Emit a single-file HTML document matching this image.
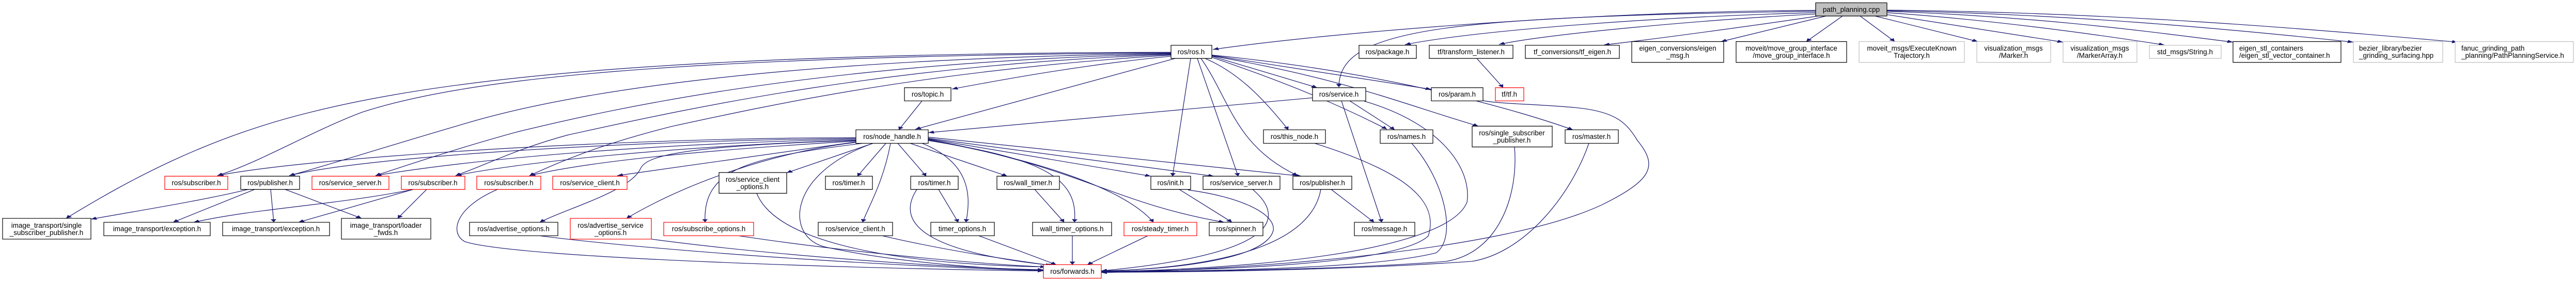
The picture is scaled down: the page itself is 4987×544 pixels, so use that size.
<!DOCTYPE html>
<html><head><meta charset="utf-8"><style>
html,body{margin:0;padding:0;background:#fff;overflow:hidden;}
svg{display:block;}
text{font-family:"Liberation Sans",sans-serif;font-size:13.5px;fill:#000;}
.e path{fill:none;stroke:#191970;stroke-width:1.2;vector-effect:non-scaling-stroke;}
.r rect{vector-effect:non-scaling-stroke;}
</style></head><body>
<svg width="4987" height="544" viewBox="0 0 4987 544" xmlns="http://www.w3.org/2000/svg">
<defs><marker id="a" viewBox="0 0 10 10" refX="10" refY="5" markerWidth="11" markerHeight="14" markerUnits="userSpaceOnUse" orient="auto"><path d="M0,0 L10,5 L0,10 z" fill="#191970"/></marker></defs>
<g transform="scale(1,0.544)">
<g class="e">
<path marker-end="url(#a)" d="M3515,37 C3100,40 2600,110 2348,176"/>
<path marker-end="url(#a)" d="M3515,40 C2800,60 2592,100 2592,310"/>
<path marker-end="url(#a)" d="M3515,45 C3200,60 2850,110 2720,159"/>
<path marker-end="url(#a)" d="M3515,50 C3300,70 3000,120 2902,158"/>
<path marker-end="url(#a)" d="M3520,57 C3400,90 3200,140 3105,160"/>
<path marker-end="url(#a)" d="M3535,57 L3332,148"/>
<path marker-end="url(#a)" d="M3567,57 L3497,148"/>
<path marker-end="url(#a)" d="M3601,57 L3668,148"/>
<path marker-end="url(#a)" d="M3630,57 L3829,148"/>
<path marker-end="url(#a)" d="M3653,52 L3994,150"/>
<path marker-end="url(#a)" d="M3653,45 C3850,70 4050,120 4190,160"/>
<path marker-end="url(#a)" d="M3653,40 C3950,60 4150,110 4323,150"/>
<path marker-end="url(#a)" d="M3653,38 C4000,50 4300,100 4556,150"/>
<path marker-end="url(#a)" d="M3653,36 C4100,45 4450,100 4758,150"/>
<path marker-end="url(#a)" d="M2267,186 C1400,190 900,260 600,400 C400,490 250,640 128,777"/>
<path marker-end="url(#a)" d="M2267,188 C1300,200 900,280 700,400 C600,470 500,580 421,625"/>
<path marker-end="url(#a)" d="M2267,190 C1500,210 1100,330 900,440 C750,520 650,580 560,625"/>
<path marker-end="url(#a)" d="M2267,192 C1600,220 1200,380 1000,470 C900,520 800,580 727,625"/>
<path marker-end="url(#a)" d="M2267,194 C1700,230 1300,400 1100,480 C1000,530 950,580 882,625"/>
<path marker-end="url(#a)" d="M2267,196 C1800,250 1500,370 1300,450 C1150,520 1080,580 1025,625"/>
<path marker-end="url(#a)" d="M2267,200 C2100,230 1950,280 1843,317"/>
<path marker-end="url(#a)" d="M2275,208 L1772,460"/>
<path marker-end="url(#a)" d="M2305,208 L2270,627"/>
<path marker-end="url(#a)" d="M2318,208 L2397,627"/>
<path marker-end="url(#a)" d="M2325,208 C2380,350 2390,520 2512,625"/>
<path marker-end="url(#a)" d="M2333,208 C2400,260 2450,360 2494,462"/>
<path marker-end="url(#a)" d="M2346,200 L2550,312"/>
<path marker-end="url(#a)" d="M2346,204 C2500,300 2600,380 2685,460"/>
<path marker-end="url(#a)" d="M2346,197 L2771,318"/>
<path marker-end="url(#a)" d="M2346,199 C2600,280 2700,360 2862,449"/>
<path marker-end="url(#a)" d="M2346,196 C2700,260 2950,400 3045,462"/>
<path marker-end="url(#a)" d="M2541,348 L1797,472"/>
<path marker-end="url(#a)" d="M2613,359 L2700,462"/>
<path marker-end="url(#a)" d="M2597,359 L2675,791"/>
<path marker-end="url(#a)" d="M2641,360 C2790,440 2850,600 2840,720 C2800,900 2400,960 2132,966"/>
<path marker-end="url(#a)" d="M1785,359 L1740,462"/>
<path marker-end="url(#a)" d="M1657,490 C1200,490 600,560 421,625"/>
<path marker-end="url(#a)" d="M1657,493 C1200,500 700,560 560,625"/>
<path marker-end="url(#a)" d="M1657,496 C1250,510 900,570 727,625"/>
<path marker-end="url(#a)" d="M1657,499 C1300,520 1000,580 882,625"/>
<path marker-end="url(#a)" d="M1657,502 C1400,530 1150,570 1025,625"/>
<path marker-end="url(#a)" d="M1657,505 L1195,625"/>
<path marker-end="url(#a)" d="M1690,510 L1523,615"/>
<path marker-end="url(#a)" d="M1715,510 L1660,627"/>
<path marker-end="url(#a)" d="M1738,510 L1793,627"/>
<path marker-end="url(#a)" d="M1762,510 L1950,627"/>
<path marker-end="url(#a)" d="M1657,500 C1300,520 1250,560 1240,600 C1220,680 1100,740 1045,791"/>
<path marker-end="url(#a)" d="M1660,506 C1500,540 1330,650 1213,777"/>
<path marker-end="url(#a)" d="M1670,510 C1450,560 1360,600 1365,791"/>
<path marker-end="url(#a)" d="M1724,510 C1710,650 1680,740 1670,791"/>
<path marker-end="url(#a)" d="M1785,510 C1880,580 1880,700 1870,791"/>
<path marker-end="url(#a)" d="M1690,510 C1520,620 1520,850 1600,880 C1750,940 1950,960 2020,962"/>
<path marker-end="url(#a)" d="M1797,500 C2000,560 2090,620 2080,791"/>
<path marker-end="url(#a)" d="M1797,498 C2100,600 2200,720 2233,791"/>
<path marker-end="url(#a)" d="M1797,496 C2100,600 2150,720 2370,791"/>
<path marker-end="url(#a)" d="M1797,494 L2228,627"/>
<path marker-end="url(#a)" d="M1797,492 L2350,627"/>
<path marker-end="url(#a)" d="M1797,488 L2520,627"/>
<path marker-end="url(#a)" d="M1045,839 C1300,900 1800,955 2020,962"/>
<path marker-end="url(#a)" d="M963,674 C880,740 870,830 900,860 C1000,920 1700,958 2020,964"/>
<path marker-end="url(#a)" d="M1261,851 C1500,910 1850,955 2020,960"/>
<path marker-end="url(#a)" d="M1430,839 C1650,900 1900,940 2025,950"/>
<path marker-end="url(#a)" d="M1465,688 C1500,850 1700,940 2030,950"/>
<path marker-end="url(#a)" d="M1708,839 C1850,900 1980,930 2035,945"/>
<path marker-end="url(#a)" d="M1775,674 C1730,800 1800,900 2040,945"/>
<path marker-end="url(#a)" d="M1895,839 L2045,942"/>
<path marker-end="url(#a)" d="M2076,839 L2076,942"/>
<path marker-end="url(#a)" d="M2222,839 L2105,942"/>
<path marker-end="url(#a)" d="M2300,676 C2400,700 2470,760 2465,820 C2450,930 2250,960 2132,964"/>
<path marker-end="url(#a)" d="M2425,674 C2480,760 2500,900 2132,964"/>
<path marker-end="url(#a)" d="M2557,674 C2540,850 2400,950 2132,965"/>
<path marker-end="url(#a)" d="M2545,510 C2700,600 2790,700 2765,840 C2700,950 2300,962 2132,966"/>
<path marker-end="url(#a)" d="M2733,510 C2800,650 2820,850 2780,900 C2650,960 2300,965 2132,967"/>
<path marker-end="url(#a)" d="M2932,523 C2940,700 2900,900 2800,930 C2600,960 2300,966 2132,968"/>
<path marker-end="url(#a)" d="M3076,510 C3040,700 2950,900 2850,930 C2600,962 2300,968 2132,969"/>
<path marker-end="url(#a)" d="M2871,358 C2900,370 3000,372 3060,385 C3130,400 3150,440 3170,500 C3210,590 3200,640 3100,730 C2900,900 2400,960 2132,970"/>
<path marker-end="url(#a)" d="M480,674 C400,710 300,740 176,780"/>
<path marker-end="url(#a)" d="M493,674 L335,791"/>
<path marker-end="url(#a)" d="M524,674 L530,791"/>
<path marker-end="url(#a)" d="M552,674 L700,777"/>
<path marker-end="url(#a)" d="M800,674 C650,730 500,740 375,791"/>
<path marker-end="url(#a)" d="M800,674 L578,791"/>
<path marker-end="url(#a)" d="M826,674 L770,777"/>
<path marker-end="url(#a)" d="M2283,674 L2385,791"/>
<path marker-end="url(#a)" d="M1817,674 L1855,791"/>
<path marker-end="url(#a)" d="M2003,674 L2060,791"/>
<path marker-end="url(#a)" d="M2577,674 L2660,791"/>
<path marker-end="url(#a)" d="M2859,208 L2910,312"/>
</g>
<g class="r" stroke-width="1.2" fill="#fff">
<rect x="3515" y="10" width="138" height="47" fill="#bfbfbf" stroke="#000"/>
<rect x="2267" y="161" width="79" height="47" stroke="#000"/>
<rect x="2631" y="161" width="111" height="47" stroke="#000"/>
<rect x="2767" y="161" width="162" height="47" stroke="#000"/>
<rect x="2953" y="161" width="182" height="47" stroke="#000"/>
<rect x="3159" y="148" width="178" height="74" stroke="#000"/>
<rect x="3361" y="148" width="214" height="74" stroke="#000"/>
<rect x="3599" y="148" width="204" height="74" stroke="#bfbfbf"/>
<rect x="3827" y="148" width="143" height="74" stroke="#bfbfbf"/>
<rect x="3994" y="148" width="143" height="74" stroke="#bfbfbf"/>
<rect x="4161" y="161" width="139" height="47" stroke="#bfbfbf"/>
<rect x="4323" y="148" width="209" height="74" stroke="#000"/>
<rect x="4556" y="148" width="173" height="74" stroke="#bfbfbf"/>
<rect x="4753" y="148" width="229" height="74" stroke="#bfbfbf"/>
<rect x="1751" y="312" width="90" height="47" stroke="#000"/>
<rect x="2541" y="312" width="103" height="47" stroke="#000"/>
<rect x="2771" y="312" width="100" height="47" stroke="#000"/>
<rect x="2895" y="312" width="55" height="47" stroke="#f00"/>
<rect x="1657" y="462" width="140" height="48" stroke="#000"/>
<rect x="2446" y="462" width="120" height="48" stroke="#000"/>
<rect x="2672" y="462" width="102" height="48" stroke="#000"/>
<rect x="2850" y="449" width="155" height="74" stroke="#000"/>
<rect x="3030" y="462" width="103" height="48" stroke="#000"/>
<rect x="319" y="627" width="122" height="47" stroke="#f00"/>
<rect x="466" y="627" width="114" height="47" stroke="#000"/>
<rect x="604" y="627" width="149" height="47" stroke="#f00"/>
<rect x="777" y="627" width="123" height="47" stroke="#f00"/>
<rect x="923" y="627" width="124" height="47" stroke="#f00"/>
<rect x="1070" y="627" width="144" height="47" stroke="#f00"/>
<rect x="1392" y="614" width="131" height="74" stroke="#000"/>
<rect x="1598" y="627" width="91" height="47" stroke="#000"/>
<rect x="1763" y="627" width="92" height="47" stroke="#000"/>
<rect x="1930" y="627" width="121" height="47" stroke="#000"/>
<rect x="2228" y="627" width="77" height="47" stroke="#000"/>
<rect x="2329" y="627" width="149" height="47" stroke="#000"/>
<rect x="2503" y="627" width="114" height="47" stroke="#000"/>
<rect x="5" y="777" width="171" height="74" stroke="#000"/>
<rect x="201" y="791" width="206" height="48" stroke="#000"/>
<rect x="431" y="791" width="207" height="48" stroke="#000"/>
<rect x="661" y="777" width="173" height="74" stroke="#000"/>
<rect x="909" y="791" width="171" height="48" stroke="#000"/>
<rect x="1104" y="777" width="157" height="74" stroke="#f00"/>
<rect x="1285" y="791" width="174" height="48" stroke="#f00"/>
<rect x="1584" y="791" width="144" height="48" stroke="#000"/>
<rect x="1802" y="791" width="123" height="48" stroke="#000"/>
<rect x="1999" y="791" width="153" height="48" stroke="#000"/>
<rect x="2176" y="791" width="141" height="48" stroke="#f00"/>
<rect x="2341" y="791" width="104" height="48" stroke="#000"/>
<rect x="2622" y="791" width="117" height="48" stroke="#000"/>
<rect x="2020" y="942" width="112" height="48" stroke="#f00"/>
</g>
</g>
<g text-anchor="middle">
<text x="3584" y="23">path_planning.cpp</text>
<text x="2306" y="105">ros/ros.h</text>
<text x="2686" y="105">ros/package.h</text>
<text x="2848" y="105">tf/transform_listener.h</text>
<text x="3044" y="105">tf_conversions/tf_eigen.h</text>
<text x="3248" y="98">eigen_conversions/eigen</text><text x="3248" y="112">_msg.h</text>
<text x="3468" y="98">moveit/move_group_interface</text><text x="3468" y="112">/move_group_interface.h</text>
<text x="3701" y="98">moveit_msgs/ExecuteKnown</text><text x="3701" y="112">Trajectory.h</text>
<text x="3898" y="98">visualization_msgs</text><text x="3898" y="112">/Marker.h</text>
<text x="4065" y="98">visualization_msgs</text><text x="4065" y="112">/MarkerArray.h</text>
<text x="4230" y="105">std_msgs/String.h</text>
<text x="1796" y="187">ros/topic.h</text>
<text x="2592" y="187">ros/service.h</text>
<text x="2821" y="187">ros/param.h</text>
<text x="2922" y="187">tf/tf.h</text>
<text x="1727" y="269">ros/node_handle.h</text>
<text x="2506" y="269">ros/this_node.h</text>
<text x="2723" y="269">ros/names.h</text>
<text x="2927" y="262">ros/single_subscriber</text><text x="2927" y="276">_publisher.h</text>
<text x="3081" y="269">ros/master.h</text>
<text x="380" y="358.5">ros/subscriber.h</text>
<text x="523" y="358.5">ros/publisher.h</text>
<text x="678" y="358.5">ros/service_server.h</text>
<text x="838" y="358.5">ros/subscriber.h</text>
<text x="985" y="358.5">ros/subscriber.h</text>
<text x="1142" y="358.5">ros/service_client.h</text>
<text x="1457" y="352">ros/service_client</text><text x="1457" y="366">_options.h</text>
<text x="1643" y="358.5">ros/timer.h</text>
<text x="1809" y="358.5">ros/timer.h</text>
<text x="1990" y="358.5">ros/wall_timer.h</text>
<text x="2266" y="358.5">ros/init.h</text>
<text x="2403" y="358.5">ros/service_server.h</text>
<text x="2560" y="358.5">ros/publisher.h</text>
<text x="90" y="441">image_transport/single</text><text x="90" y="455">_subscriber_publisher.h</text>
<text x="304" y="447.5">image_transport/exception.h</text>
<text x="534" y="447.5">image_transport/exception.h</text>
<text x="747" y="441">image_transport/loader</text><text x="747" y="455">_fwds.h</text>
<text x="994" y="447.5">ros/advertise_options.h</text>
<text x="1182" y="441">ros/advertise_service</text><text x="1182" y="455">_options.h</text>
<text x="1372" y="447.5">ros/subscribe_options.h</text>
<text x="1656" y="447.5">ros/service_client.h</text>
<text x="1863" y="447.5">timer_options.h</text>
<text x="2075" y="447.5">wall_timer_options.h</text>
<text x="2246" y="447.5">ros/steady_timer.h</text>
<text x="2393" y="447.5">ros/spinner.h</text>
<text x="2680" y="447.5">ros/message.h</text>
<text x="2076" y="530">ros/forwards.h</text>
</g>
<g>
<text x="4335" y="98">eigen_stl_containers</text><text x="4335" y="112">/eigen_stl_vector_container.h</text>
<text x="4567" y="98">bezier_library/bezier</text><text x="4567" y="112">_grinding_surfacing.hpp</text>
<text x="4765" y="98">fanuc_grinding_path</text><text x="4765" y="112">_planning/PathPlanningService.h</text>
</g>
</svg>
</body></html>
